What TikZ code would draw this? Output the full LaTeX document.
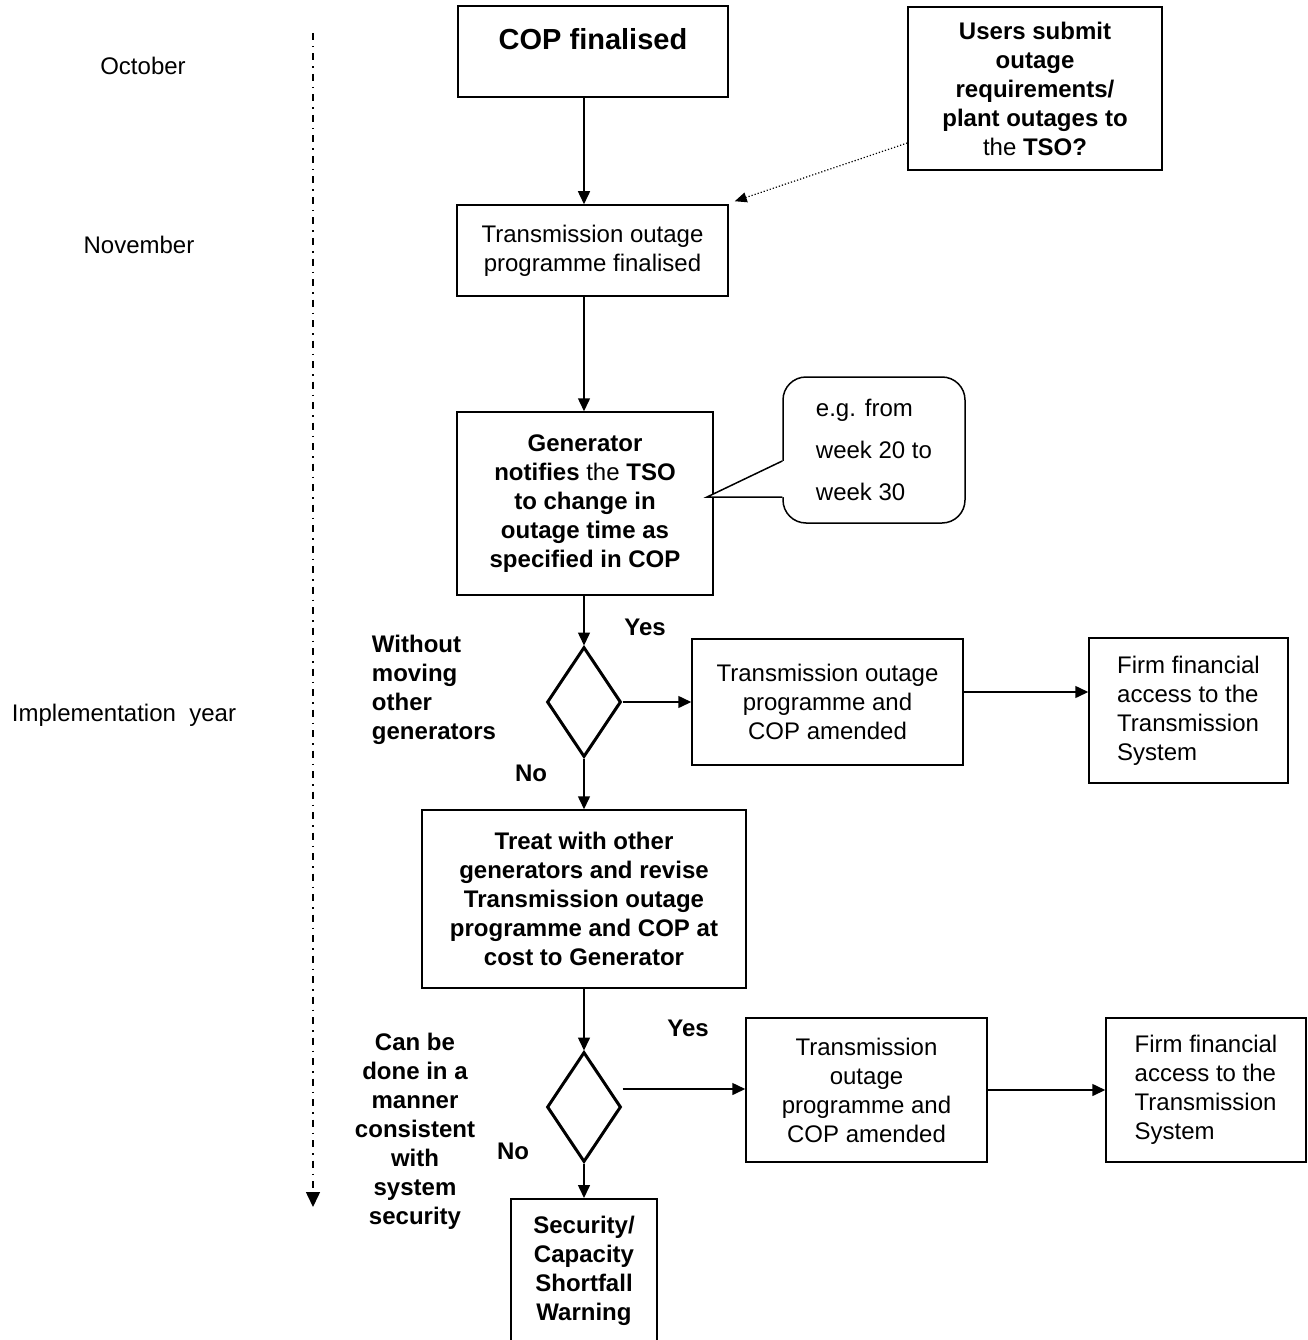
\documentclass[tikz,border=0pt]{standalone}
\usepackage{fontspec}
\setmainfont{Liberation Sans}
\usetikzlibrary{shapes.geometric,arrows.meta,calc}
\begin{document}
\begin{tikzpicture}[x=1pt,y=-1pt,
  every node/.style={font=\fontsize{24}{29}\selectfont, inner sep=0pt},
  box/.style={draw, line width=1.5pt, align=center},
  bold/.style={font=\fontsize{24}{29}\selectfont\bfseries},
  dec/.style={draw, diamond, line width=3pt, minimum width=74pt, minimum height=110pt},
  arr/.style={line width=1.5pt, -{Triangle[length=13pt,width=12pt]}},
]
\useasboundingbox (0,0) rectangle (1307,1340);

% timeline
\coordinate (t0) at (313,33);
\coordinate (t1) at (313,1207);
\draw[line width=1.5pt, dash pattern=on 7pt off 6pt on 1.5pt off 6pt, -{Triangle[length=15pt,width=14pt]}] (t0) -- (t1);
\node (oct) at (143,66) {October};
\node (nov) at (139,245) {November};
\node (impl) at (124,715) {Implementation~ year};

% boxes
\node[box, minimum width=270pt, minimum height=91pt, font=\fontsize{29}{34}\selectfont\bfseries, text height=21pt, text depth=24pt] (cop) at (593,51.5) {COP finalised};
\node[box, bold, minimum width=254pt, minimum height=163pt] (users) at (1035,88.5) {Users submit\\outage\\requirements/\\plant outages to\\{\mdseries the} TSO?};
\node[box, minimum width=271pt, minimum height=91pt] (tof) at (592.5,250.5) {Transmission outage\\programme finalised};
\node[box, bold, minimum width=256pt, minimum height=183pt] (gen) at (585,503.5) {Generator\\notifies {\mdseries the} TSO\\to change in\\outage time as\\specified in COP};

% callout
\node[draw, line width=1.5pt, rounded corners=23pt, minimum width=182pt, minimum height=146pt, align=left, font=\fontsize{24}{42}\selectfont] (note) at (874,450) {e.g. from\\week 20 to\\week 30};
\coordinate (tip) at (707,497);
\fill[white] ($(note.west)+(1.5,11)$) -- (tip) -- ($(note.west)+(1.5,47)$) -- cycle;
\draw[line width=1.5pt, line join=miter] ($(note.west)+(0,11)$) -- (tip) -- ($(note.west)+(0,47)$);

\node[dec] (dA) at (584,702) {};
\node[box, minimum width=271pt, minimum height=126pt] (am1) at (827.5,702) {Transmission outage\\programme and\\COP amended};
\node[box, align=left, minimum width=199pt, minimum height=145pt] (firm1) at (1188.5,710.5) {Firm financial\\access to the\\Transmission\\System};
\node[box, bold, minimum width=324pt, minimum height=178pt] (treat) at (584,899) {Treat with other\\generators and revise\\Transmission outage\\programme and COP at\\cost to Generator};
\node[dec] (dB) at (584,1107) {};
\node[box, minimum width=241pt, minimum height=144pt] (am2) at (866.5,1090) {Transmission\\outage\\programme and\\COP amended};
\node[box, align=left, minimum width=200pt, minimum height=144pt] (firm2) at (1206,1090) {Firm financial\\access to the\\Transmission\\System};
\node[box, font=\fontsize{24}{29}\selectfont\bfseries, minimum width=146pt, minimum height=168pt, anchor=north] (sec) at (584,1198) {Security/\\Capacity\\Shortfall\\Warning\\\mbox{}};

% labels
\node[bold, align=left] (qA) at (434,690) {Without\\moving\\other\\generators};
\node[bold, align=center] (qB) at (415,1131) {Can be\\done in a\\manner\\consistent\\with\\system\\security};
\node[bold] (yesA) at (645,627) {Yes};
\node[bold] (noA) at (531,773) {No};
\node[bold] (yesB) at (688,1028) {Yes};
\node[bold] (noB) at (513,1151) {No};

% connectors
\coordinate (r0) at (0,143);
\coordinate (r1) at (0,692);
\coordinate (r2) at (0,1089);
\draw[arr] (cop.south -| dA.north) -- (tof.north -| dA.north);
\draw[arr] (tof.south -| dA.north) -- (gen.north -| dA.north);
\draw[arr] (gen.south -| dA.north) -- (dA.north);
\draw[arr] (dA.east) -- (am1.west);
\draw[arr] (am1.east |- r1) -- (firm1.west |- r1);
\draw[arr] (dA.south) -- (treat.north -| dA.south);
\draw[arr] (treat.south -| dB.north) -- (dB.north);
\draw[arr] (dB.east |- r2) -- (am2.west |- r2);
\draw[arr] (am2.east) -- (firm2.west);
\draw[arr] (dB.south) -- (sec.north);
\draw[line width=1.2pt, dotted, -{Triangle[length=12pt,width=10pt]}] (users.west |- r0) -- ($(tof.north east)+(6,-3)$);
\end{tikzpicture}
\end{document}
